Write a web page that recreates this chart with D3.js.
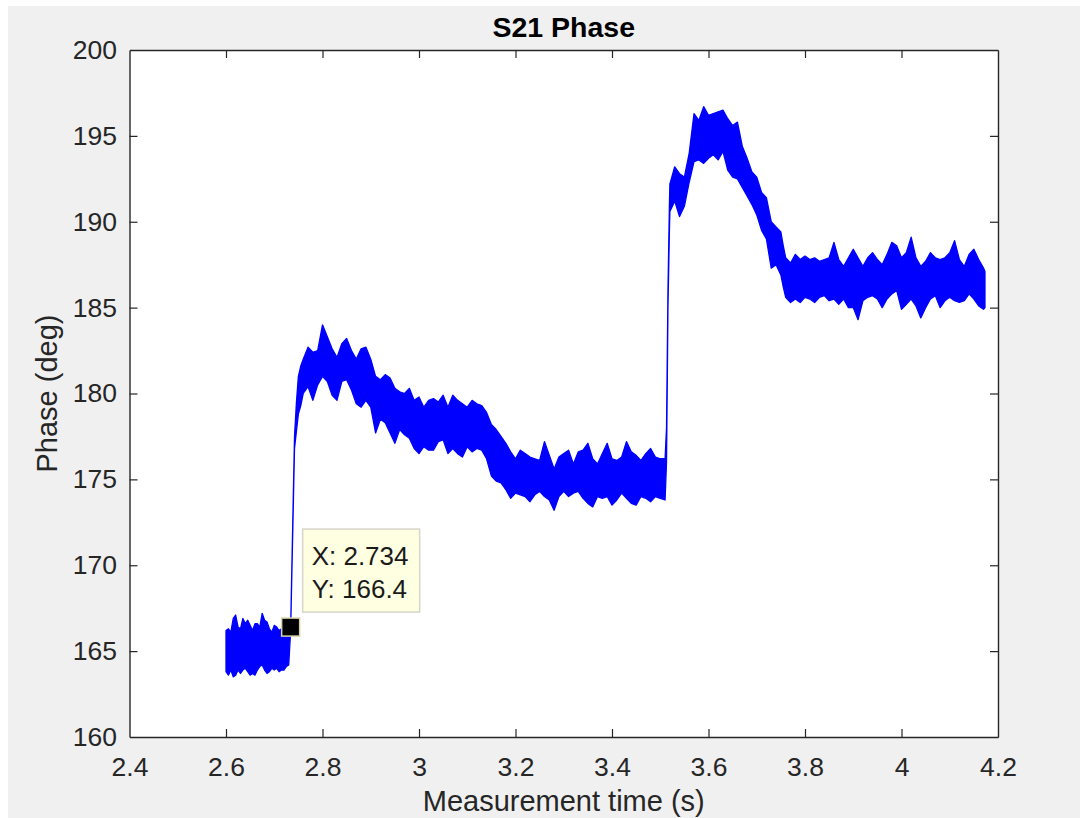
<!DOCTYPE html>
<html><head><meta charset="utf-8">
<script src="https://cdn.jsdelivr.net/npm/d3@7"></script>
<style>
body{margin:0;background:#fff;}
svg{display:block;font-family:"Liberation Sans",Arial,Helvetica,sans-serif;}
</style>
</head><body>
<svg id="c" width="1080" height="818"></svg>
<script>
// ---- data (envelope of the noisy S21 phase trace) ----
const time = [
 2.600,2.605,2.610,2.615,2.620,2.625,2.630,2.635,2.640,2.645,2.650,2.655,2.660,2.665,2.670,2.675,2.680,2.685,2.690,2.695,2.700,2.705,2.710,2.715,2.720,2.725,2.730,
 2.734,2.738,2.742,2.746,2.750,2.755,
 2.76,2.77,2.78,2.79,2.80,2.81,2.82,2.83,2.84,2.85,2.86,2.87,2.88,2.89,2.90,
 2.91,2.92,2.93,2.94,2.95,2.96,2.97,2.98,2.99,3.00,3.01,3.02,3.03,3.04,3.05,3.06,3.07,3.08,3.09,3.10,3.11,3.12,3.13,3.14,
 3.15,3.16,3.17,3.18,3.19,3.20,
 3.21,3.22,3.23,3.24,3.25,3.26,3.27,3.28,3.29,3.30,3.31,3.32,3.33,3.34,3.35,3.36,3.37,3.38,3.39,3.40,3.41,3.42,3.43,3.44,3.45,3.46,3.47,3.48,3.49,3.50,3.51,
 3.513,3.516,3.519,
 3.52,3.53,3.54,3.55,3.56,3.57,3.58,3.59,3.60,3.61,3.62,3.63,3.64,3.65,3.66,3.67,3.68,3.69,3.70,3.71,3.72,3.73,3.74,3.75,3.755,3.76,3.77,
 3.78,3.79,3.80,3.81,3.82,3.83,3.84,3.85,3.86,3.87,3.88,3.89,3.90,3.91,3.92,3.93,3.94,3.95,3.96,3.97,3.98,3.99,4.00,
 4.01,4.02,4.03,4.04,4.05,4.06,4.07,4.08,4.09,4.10,4.11,4.12,4.13,4.14,4.15,4.16,4.17,4.173
];
const upper = [
 166.2,166.3,166.1,166.9,167.1,166.4,166.3,166.9,166.6,166.8,166.5,166.2,166.6,166.6,166.4,167.2,166.8,166.7,166.3,166.1,166.5,166.4,166.2,166.3,166.2,166.3,166.4,
 166.4,172.0,177.5,179.5,181.0,181.6,
 182.0,182.7,182.4,182.5,184.0,183.3,182.6,182.1,182.9,183.2,182.5,182.0,182.6,182.7,182.0,
 181.0,180.8,181.1,180.9,180.3,180.1,180.0,180.3,179.6,179.8,179.2,179.6,179.7,179.5,179.9,179.2,179.9,179.6,179.4,179.2,179.6,179.4,179.3,178.9,
 178.2,177.9,177.5,177.1,176.6,176.2,
 176.7,176.5,176.3,176.2,176.1,177.2,176.4,175.6,176.3,176.5,176.7,175.9,176.6,176.7,177.1,176.2,175.9,176.5,177.1,176.2,176.1,176.3,177.2,176.6,176.4,176.1,176.5,176.8,176.3,176.2,176.2,
 178.0,186.0,191.0,
 192.2,193.2,192.8,192.6,194.0,196.3,195.9,196.7,196.2,196.3,196.4,196.5,196.0,195.6,195.8,194.4,193.7,192.9,192.6,191.7,191.4,190.0,189.7,189.4,188.6,187.9,187.6,
 188.1,187.8,188.0,187.8,187.9,187.7,187.8,187.9,188.8,187.8,187.4,187.9,188.4,187.9,187.4,187.9,188.2,187.8,187.5,188.1,188.8,188.6,187.9,
 188.2,189.1,187.9,187.4,187.7,188.2,187.9,187.8,187.9,188.2,188.9,187.8,187.4,188.1,188.4,187.8,187.3,187.1
];
const lower = [
 163.8,163.6,163.9,163.5,163.6,163.9,163.7,163.9,164.0,163.8,163.6,163.7,163.6,163.9,164.1,164.2,163.9,163.7,163.8,164.0,163.9,164.0,163.8,163.9,163.9,164.1,164.2,
 166.2,171.5,176.8,177.8,178.8,179.3,
 180.0,180.4,179.6,180.5,181.0,180.7,179.9,179.6,180.7,180.8,180.2,179.4,179.2,179.6,179.2,
 177.7,178.5,178.3,177.7,177.1,177.9,177.6,177.4,176.8,176.5,176.9,176.7,176.7,177.2,177.3,176.5,176.8,176.5,176.3,176.9,176.6,176.8,176.7,176.2,
 175.2,174.9,174.8,174.4,173.9,174.2,
 174.1,174.0,173.7,174.1,174.3,174.0,173.8,173.2,174.0,174.3,174.0,174.2,174.3,173.9,173.6,173.4,174.0,173.9,174.0,173.5,173.8,174.2,173.9,173.6,173.5,174.0,173.9,173.7,174.0,173.9,173.8,
 176.0,185.0,189.5,
 190.6,191.2,190.3,190.9,192.3,193.5,193.6,193.4,193.7,193.9,193.6,194.1,193.0,192.6,192.5,192.0,191.5,191.0,190.4,189.5,189.0,187.3,187.5,186.9,186.2,185.6,185.3,
 185.5,185.3,185.6,185.5,185.3,185.6,185.7,185.4,185.5,185.2,185.5,185.0,185.0,184.3,185.4,185.6,185.7,185.5,185.0,185.5,185.8,186.0,184.9,
 185.2,185.5,185.1,184.4,185.0,185.5,185.7,185.0,185.4,185.6,185.4,185.3,185.4,185.8,185.5,185.1,184.9,185.0
];
const xTicks = [2.4,2.6,2.8,3.0,3.2,3.4,3.6,3.8,4.0,4.2];
const yTicks = [160,165,170,175,180,185,190,195,200];
const tipX = [2.734];
const tipY = [166.4];
const titleText = "S21 Phase";
const xLabelText = "Measurement time (s)";
const yLabelText = "Phase (deg)";

// ---- drawing ----
const svg = d3.select("#c");
svg.append("rect").attr("x",8).attr("y",6).attr("width",1072).attr("height",812).attr("fill","#f0f0f0");

const L=129.5, R=998, T=50, B=737;
const x = d3.scaleLinear().domain([2.4,4.2]).range([L,R]);
const y = d3.scaleLinear().domain([160,200]).range([B,T]);

svg.append("rect").attr("x",L).attr("y",T).attr("width",R-L).attr("height",B-T).attr("fill","#fff");

const pts = time.map((t,i)=>({t, hi:upper[i], lo:lower[i]}));
const area = d3.area().x(d=>x(d.t)).y0(d=>y(d.lo)).y1(d=>y(d.hi));
svg.append("path").datum(pts).attr("d",area)
  .attr("fill","#0000ff").attr("stroke","#0000ff").attr("stroke-width",1.3).attr("stroke-linejoin","round");

const axisColor="#262626";
const fmtX = d => d3.format("~g")(d);
const gB = svg.append("g").attr("transform",`translate(0,${B})`)
  .call(d3.axisBottom(x).tickValues(xTicks).tickSizeInner(-8).tickSizeOuter(0).tickPadding(20).tickFormat(fmtX));
const gT = svg.append("g").attr("transform",`translate(0,${T})`)
  .call(d3.axisTop(x).tickValues(xTicks).tickSizeInner(-8).tickSizeOuter(0).tickFormat(""));
const gL = svg.append("g").attr("transform",`translate(${L},0)`)
  .call(d3.axisLeft(y).tickValues(yTicks).tickSizeInner(-8).tickSizeOuter(0).tickPadding(12.5).tickFormat(d3.format("d")));
const gR = svg.append("g").attr("transform",`translate(${R},0)`)
  .call(d3.axisRight(y).tickValues(yTicks).tickSizeInner(-8).tickSizeOuter(0).tickFormat(""));
[gB,gT,gL,gR].forEach(g=>{
  g.select(".domain").attr("stroke",axisColor).attr("stroke-width",1.4);
  g.selectAll(".tick line").attr("stroke",axisColor).attr("stroke-width",1.2);
  g.selectAll(".tick text").attr("fill",axisColor).style("font-size","26.5px")
   .style("font-family","'Liberation Sans',Arial,sans-serif");
});
// first/last tick lines sit on the box edges; hide to avoid double weight
[gB,gT].forEach(g=>g.selectAll(".tick line").filter(d=>d===2.4||d===4.2).remove());
[gL,gR].forEach(g=>g.selectAll(".tick line").filter(d=>d===160||d===200).remove());

// title and labels
svg.append("text").attr("x",(L+R)/2).attr("y",37).attr("text-anchor","middle")
  .style("font-size","28.5px").style("font-weight","bold").attr("fill","#000").text(titleText);
svg.append("text").attr("x",(L+R)/2).attr("y",811).attr("text-anchor","middle")
  .style("font-size","29px").attr("fill",axisColor).text(xLabelText);
svg.append("text").attr("transform",`translate(57,${(T+B)/2}) rotate(-90)`).attr("text-anchor","middle")
  .style("font-size","29px").attr("fill",axisColor).text(yLabelText);

// data tip
const px = x(tipX[0]), py = y(tipY[0]);
svg.append("rect").attr("x",px-9).attr("y",py-9).attr("width",18).attr("height",18)
  .attr("fill","#000").attr("stroke","#d8d3a8").attr("stroke-width",1.5);
const bx = px+12, by = py-98;
svg.append("rect").attr("x",bx).attr("y",by).attr("width",117).attr("height",83)
  .attr("fill","#ffffe1").attr("stroke","#d6d6cc").attr("stroke-width",1.5);
svg.append("text").attr("x",bx+9).attr("y",by+36).style("font-size","26px").attr("fill","#1a1a1a")
  .text("X: " + tipX[0]);
svg.append("text").attr("x",bx+9).attr("y",by+69).style("font-size","26px").attr("fill","#1a1a1a")
  .text("Y: " + tipY[0]);
</script>
</body></html>
